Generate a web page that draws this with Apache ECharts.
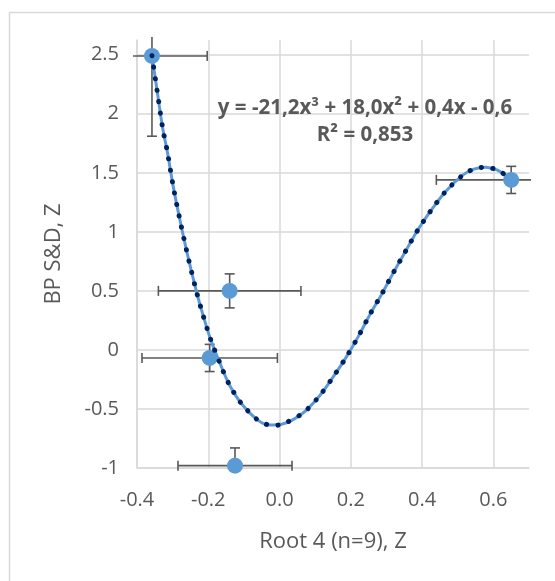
<!DOCTYPE html>
<html>
<head>
<meta charset="utf-8">
<script src="https://cdn.jsdelivr.net/npm/echarts@6/dist/echarts.min.js"></script>
<style>
html,body{margin:0;padding:0;background:#fff;}
#chart{width:555px;height:581px;}
</style>
</head>
<body>
<div id="chart"></div>
<script>
// Data points (Root 4 Z vs BP S&D Z) with error bars
const xValues = [-0.358, -0.14, -0.196, -0.125, 0.65];
const yValues = [2.49, 0.50, -0.068, -0.98, 1.44];
const xErrors = [0.155, 0.20, 0.19, 0.16, 0.21];
const yErrors = [0.68, 0.144, 0.115, 0.15, 0.115];

// Trend line
const trendX = [-0.358,-0.343,-0.328,-0.315,-0.298,-0.278,-0.256,-0.232,-0.214,-0.193,-0.169,-0.142,-0.106,-0.059,-0.028,0.006,0.065,0.112,0.151,0.188,0.222,0.254,0.288,0.320,0.353,0.387,0.425,0.466,0.515,0.545,0.578,0.610,0.643,0.65];
const trendY = [2.492,2.184,1.879,1.681,1.379,1.079,0.777,0.481,0.288,0.085,-0.099,-0.288,-0.458,-0.599,-0.636,-0.630,-0.536,-0.390,-0.226,-0.057,0.119,0.303,0.479,0.658,0.833,1.011,1.181,1.342,1.483,1.531,1.548,1.525,1.464,1.452];

const equationText = 'y = -21,2x³ + 18,0x² + 0,4x - 0,6\nR² = 0,853';
const xAxisTitle = 'Root 4 (n=9), Z';
const yAxisTitle = 'BP S&D, Z';

const FONT = '"Open Sans", "Noto Sans", sans-serif';
const GREY = '#595959';
const GRID = '#d9d9d9';

const chart = echarts.init(document.getElementById('chart'), null, {renderer: 'canvas'});

const pointData = xValues.map((x, i) => [x, yValues[i], xErrors[i], yErrors[i]]);
const trendData = trendX.map((x, i) => [x, trendY[i]]);

function errorBars(params, api) {
  const x = api.value(0), y = api.value(1), ex = api.value(2), ey = api.value(3);
  const c = api.coord([x, y]);
  const l = api.coord([x - ex, y]);
  const r = api.coord([x + ex, y]);
  const t = api.coord([x, y + ey]);
  const b = api.coord([x, y - ey]);
  const cs = params.coordSys;
  const minX = cs.x - 4, maxX = cs.x + cs.width + 2;
  const minY = cs.y - 3, maxY = cs.y + cs.height;
  const cap = 5;
  const style = {stroke: GREY, lineWidth: 1.6, fill: null};
  const children = [];
  const lx = Math.max(l[0], minX), rx = Math.min(r[0], maxX);
  const ty = Math.max(t[1], minY), by = Math.min(b[1], maxY);
  children.push({type: 'line', shape: {x1: lx, y1: c[1], x2: rx, y2: c[1]}, style});
  children.push({type: 'line', shape: {x1: c[0], y1: ty, x2: c[0], y2: by}, style});
  if (l[0] >= minX) children.push({type: 'line', shape: {x1: l[0], y1: c[1] - cap, x2: l[0], y2: c[1] + cap}, style});
  if (r[0] <= maxX) children.push({type: 'line', shape: {x1: r[0], y1: c[1] - cap, x2: r[0], y2: c[1] + cap}, style});
  if (t[1] >= minY) children.push({type: 'line', shape: {x1: c[0] - cap, y1: t[1], x2: c[0] + cap, y2: t[1]}, style});
  if (b[1] <= maxY) children.push({type: 'line', shape: {x1: c[0] - cap, y1: b[1], x2: c[0] + cap, y2: b[1]}, style});
  return {type: 'group', children};
}

function trendDots(params, api) {
  const pts = trendData.map(d => api.coord(d));
  return {
    type: 'polyline',
    shape: {points: pts, smooth: 0.3},
    style: {stroke: '#00205F', lineWidth: 5, fill: null, lineDash: [0.1, 11.5], lineCap: 'round'}
  };
}

const option = {
  animation: false,
  backgroundColor: '#ffffff',
  grid: {left: 137, right: 26, top: 40, bottom: 113, containLabel: false},
  xAxis: {
    type: 'value', min: -0.4, max: 0.7, interval: 0.2,
    name: xAxisTitle, nameLocation: 'middle', nameGap: 63,
    nameTextStyle: {color: GREY, fontSize: 22, fontFamily: FONT},
    axisLine: {show: true, onZero: false, lineStyle: {color: GRID, width: 1.5}},
    axisTick: {show: false},
    axisLabel: {color: GREY, fontSize: 20, fontFamily: FONT, margin: 22, showMaxLabel: false,
      formatter: v => v.toFixed(1)},
    splitLine: {show: true, showMaxLine: false, lineStyle: {color: GRID, width: 1.5}}
  },
  yAxis: {
    type: 'value', min: -1, max: 2.625, interval: 0.5,
    name: yAxisTitle, nameLocation: 'middle', nameGap: 72,
    nameTextStyle: {color: GREY, fontSize: 22, fontFamily: FONT},
    axisLine: {show: true, onZero: false, lineStyle: {color: GRID, width: 1.5}},
    axisTick: {show: false},
    axisLabel: {color: GREY, fontSize: 20, fontFamily: FONT, margin: 18, showMaxLabel: false},
    splitLine: {show: true, showMaxLine: false, lineStyle: {color: GRID, width: 1.5}}
  },
  series: [
    {
      type: 'custom', renderItem: errorBars, data: pointData, clip: false, z: 2,
      encode: {x: 0, y: 1}
    },
    {
      type: 'scatter', data: pointData.map(d => [d[0], d[1]]), symbol: 'circle', symbolSize: 16,
      itemStyle: {color: '#5B9BD5', opacity: 1}, z: 3
    },
    {
      type: 'line', data: trendData, smooth: 0.3, showSymbol: false, z: 4,
      lineStyle: {color: '#5B9BD5', width: 3}
    },
    {
      type: 'custom', renderItem: trendDots, data: [trendData[0]], z: 5, clip: false,
      encode: {x: 0, y: 1}
    }
  ],
  graphic: [
    {
      type: 'rect', left: 7, top: 10, silent: true, z: -10,
      shape: {width: 600, height: 600},
      style: {fill: null, stroke: GRID, lineWidth: 1.5}
    },
    {
      type: 'text', x: 365, y: 95, z: 10,
      style: {text: equationText, fill: GREY, font: 'bold 20.5px ' + FONT, align: 'center', lineHeight: 27}
    }
  ]
};
chart.setOption(option);
</script>
</body>
</html>
